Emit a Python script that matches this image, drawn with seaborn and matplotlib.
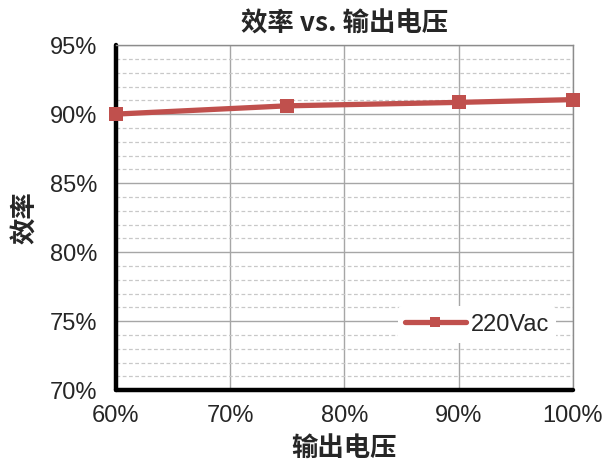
import matplotlib.pyplot as plt
import numpy as np
import pandas as pd
import seaborn as sns
from matplotlib.ticker import MultipleLocator, PercentFormatter

# data
tension_salida = [60, 75, 90, 100]
eficiencia = [90.0, 90.6, 90.85, 91.05]
serie = ['220Vac'] * 4

df = pd.DataFrame({'salida': tension_salida, 'eficiencia': eficiencia, 'serie': serie})

sns.set_style('white')
plt.rcParams['font.family'] = ['Liberation Sans', 'Noto Sans CJK SC', 'DejaVu Sans']
cjk = ['Noto Sans CJK SC', 'DejaVu Sans']
rojo = '#C0504D'

figura = plt.figure(figsize=(6.03, 4.65), dpi=100)
ax = figura.add_axes([0.192, 0.161, 0.758, 0.742])

sns.lineplot(data=df, x='salida', y='eficiencia', hue='serie', palette=[rojo],
             marker='s', markersize=10, markeredgewidth=0, linewidth=3.8, ax=ax,
             zorder=5, clip_on=False)

ax.set_xlim(60, 100)
ax.set_ylim(70, 95)
ax.xaxis.set_major_locator(MultipleLocator(10))
ax.yaxis.set_major_locator(MultipleLocator(5))
ax.yaxis.set_minor_locator(MultipleLocator(1))
ax.xaxis.set_major_formatter(PercentFormatter(decimals=0))
ax.yaxis.set_major_formatter(PercentFormatter(decimals=0))

ax.grid(axis='x', which='major', color='#A6A6A6', linewidth=1)
ax.grid(axis='y', which='major', color='#A6A6A6', linewidth=1)
ax.grid(axis='y', which='minor', color='#C8C8C8', linewidth=0.9, linestyle=(0, (3, 2)))
ax.set_axisbelow(True)

for lado in ['top', 'right']:
    ax.spines[lado].set_color('#8C8C8C')
    ax.spines[lado].set_linewidth(1)
for lado in ['left', 'bottom']:
    ax.spines[lado].set_color('black')
    ax.spines[lado].set_linewidth(3.2)
    ax.spines[lado].set_capstyle('round')

ax.tick_params(axis='x', which='major', direction='in', length=5, width=3, color='black',
               labelsize=17, pad=11, labelcolor='#262626')
ax.tick_params(axis='y', which='major', direction='in', length=0, labelsize=17, pad=13,
               labelcolor='#262626')
ax.tick_params(axis='y', which='minor', length=0)

ax.set_title('效率 vs. 输出电压', fontsize=19, fontweight='bold', family=cjk, pad=10)
ax.set_xlabel('输出电压', fontsize=19, fontweight='bold', family=cjk, labelpad=5)
ax.set_ylabel('效率', fontsize=19, fontweight='bold', family=cjk, labelpad=8)

ley = ax.legend(loc='center', bbox_to_anchor=(0.79, 0.19), frameon=True, fontsize=17,
                handlelength=2.6, handletextpad=0.2, borderpad=0.3, markerscale=0.7)
ley.get_frame().set_facecolor('white')
ley.get_frame().set_edgecolor('none')
ley.get_frame().set_alpha(1)
ley.set_zorder(10)

figura.savefig('out.png', dpi=100)
